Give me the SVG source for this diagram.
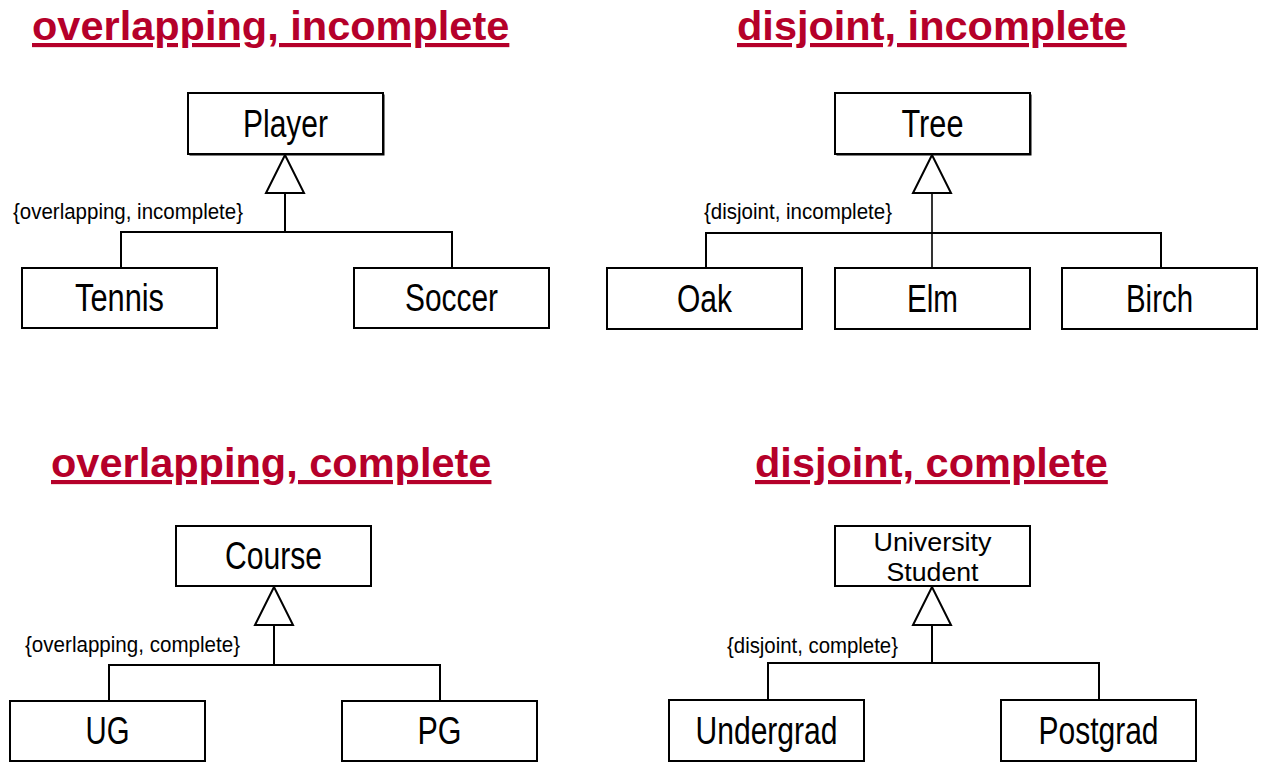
<svg xmlns="http://www.w3.org/2000/svg" width="1266" height="771" viewBox="0 0 1266 771">
<style>
.title{font-family:"Liberation Sans",Arial,sans-serif;font-weight:bold;font-size:41.5px;fill:#b5002a;text-decoration:underline}
.box{fill:#fff;stroke:#000;stroke-width:2}
.shadow{fill:#000}
.name{font-family:"Liberation Sans",Arial,sans-serif;font-size:38px;fill:#000;text-anchor:middle}
.name2{font-family:"Liberation Sans",Arial,sans-serif;font-size:26px;fill:#000;text-anchor:middle}
.lbl{font-family:"Liberation Sans",Arial,sans-serif;font-size:22px;fill:#000}
.conn{fill:none;stroke:#000;stroke-width:2}
.tri{fill:#fff;stroke:#000;stroke-width:2;stroke-linejoin:miter}
</style>
<rect width="1266" height="771" fill="#fff"/>

<g id="titles">
<text class="title" x="32" y="40">overlapping, incomplete</text>
<text class="title" x="737" y="40">disjoint, incomplete</text>
<text class="title" x="51" y="477">overlapping, complete</text>
<text class="title" x="755" y="477">disjoint, complete</text>
</g>

<g id="connectors">
<polyline class="conn" points="285,193 285,232"/>
<polyline class="conn" points="121,268 121,232 452,232 452,268"/>
<polygon class="tri" points="285,155 266,193 304,193"/>
<polyline class="conn" points="932,193 932,268" style="stroke-width:1.6"/>
<polyline class="conn" points="706,268 706,233 1161,233 1161,268"/>
<polygon class="tri" points="932,155 913,193 951,193"/>
<polyline class="conn" points="274,625 274,665"/>
<polyline class="conn" points="109,701 109,665 440,665 440,701"/>
<polygon class="tri" points="274,587 255,625 293,625"/>
<polyline class="conn" points="932,625 932,663"/>
<polyline class="conn" points="768,700 768,663 1099,663 1099,700"/>
<polygon class="tri" points="932,587 913,625 951,625"/>
</g>

<g id="labels">
<text class="lbl" x="13" y="219" textLength="230" lengthAdjust="spacingAndGlyphs">{overlapping, incomplete}</text>
<text class="lbl" x="704" y="219" textLength="188" lengthAdjust="spacingAndGlyphs">{disjoint, incomplete}</text>
<text class="lbl" x="25" y="652" textLength="215" lengthAdjust="spacingAndGlyphs">{overlapping, complete}</text>
<text class="lbl" x="727" y="653" textLength="171" lengthAdjust="spacingAndGlyphs">{disjoint, complete}</text>
</g>

<g id="player">
<rect class="shadow" x="189.5" y="94.5" width="195" height="61"/>
<rect class="box" x="188" y="93" width="195" height="61"/>
<text class="name" x="285.5" y="137" textLength="85" lengthAdjust="spacingAndGlyphs">Player</text>
</g>
<g id="tennis">
<rect class="box" x="22" y="268" width="195" height="60"/>
<text class="name" x="119.5" y="311" textLength="89" lengthAdjust="spacingAndGlyphs">Tennis</text>
</g>
<g id="soccer">
<rect class="box" x="354" y="268" width="195" height="60"/>
<text class="name" x="451.5" y="311" textLength="93" lengthAdjust="spacingAndGlyphs">Soccer</text>
</g>

<g id="tree">
<rect class="shadow" x="836.5" y="94.5" width="195" height="61"/>
<rect class="box" x="835" y="93" width="195" height="61"/>
<text class="name" x="932.5" y="137" textLength="62" lengthAdjust="spacingAndGlyphs">Tree</text>
</g>
<g id="oak">
<rect class="box" x="607" y="268" width="195" height="61"/>
<text class="name" x="704.5" y="312" textLength="55" lengthAdjust="spacingAndGlyphs">Oak</text>
</g>
<g id="elm">
<rect class="box" x="835" y="268" width="195" height="61"/>
<text class="name" x="932.5" y="312" textLength="51" lengthAdjust="spacingAndGlyphs">Elm</text>
</g>
<g id="birch">
<rect class="box" x="1062" y="268" width="195" height="61"/>
<text class="name" x="1159.5" y="312" textLength="67" lengthAdjust="spacingAndGlyphs">Birch</text>
</g>

<g id="course">
<rect class="box" x="176" y="526" width="195" height="60"/>
<text class="name" x="273.5" y="569" textLength="97" lengthAdjust="spacingAndGlyphs">Course</text>
</g>
<g id="ug">
<rect class="box" x="10" y="701" width="195" height="60"/>
<text class="name" x="107.5" y="744" textLength="44" lengthAdjust="spacingAndGlyphs">UG</text>
</g>
<g id="pg">
<rect class="box" x="342" y="701" width="195" height="60"/>
<text class="name" x="439.5" y="744" textLength="44" lengthAdjust="spacingAndGlyphs">PG</text>
</g>

<g id="universitystudent">
<rect class="box" x="835" y="526" width="195" height="60"/>
<text class="name2" x="932.5" y="551" textLength="118" lengthAdjust="spacingAndGlyphs">University</text>
<text class="name2" x="932.5" y="581" textLength="92" lengthAdjust="spacingAndGlyphs">Student</text>
</g>
<g id="undergrad">
<rect class="box" x="669" y="700" width="195" height="61"/>
<text class="name" x="766.5" y="744" textLength="142" lengthAdjust="spacingAndGlyphs">Undergrad</text>
</g>
<g id="postgrad">
<rect class="box" x="1001" y="700" width="195" height="61"/>
<text class="name" x="1098.5" y="744" textLength="120" lengthAdjust="spacingAndGlyphs">Postgrad</text>
</g>
</svg>
